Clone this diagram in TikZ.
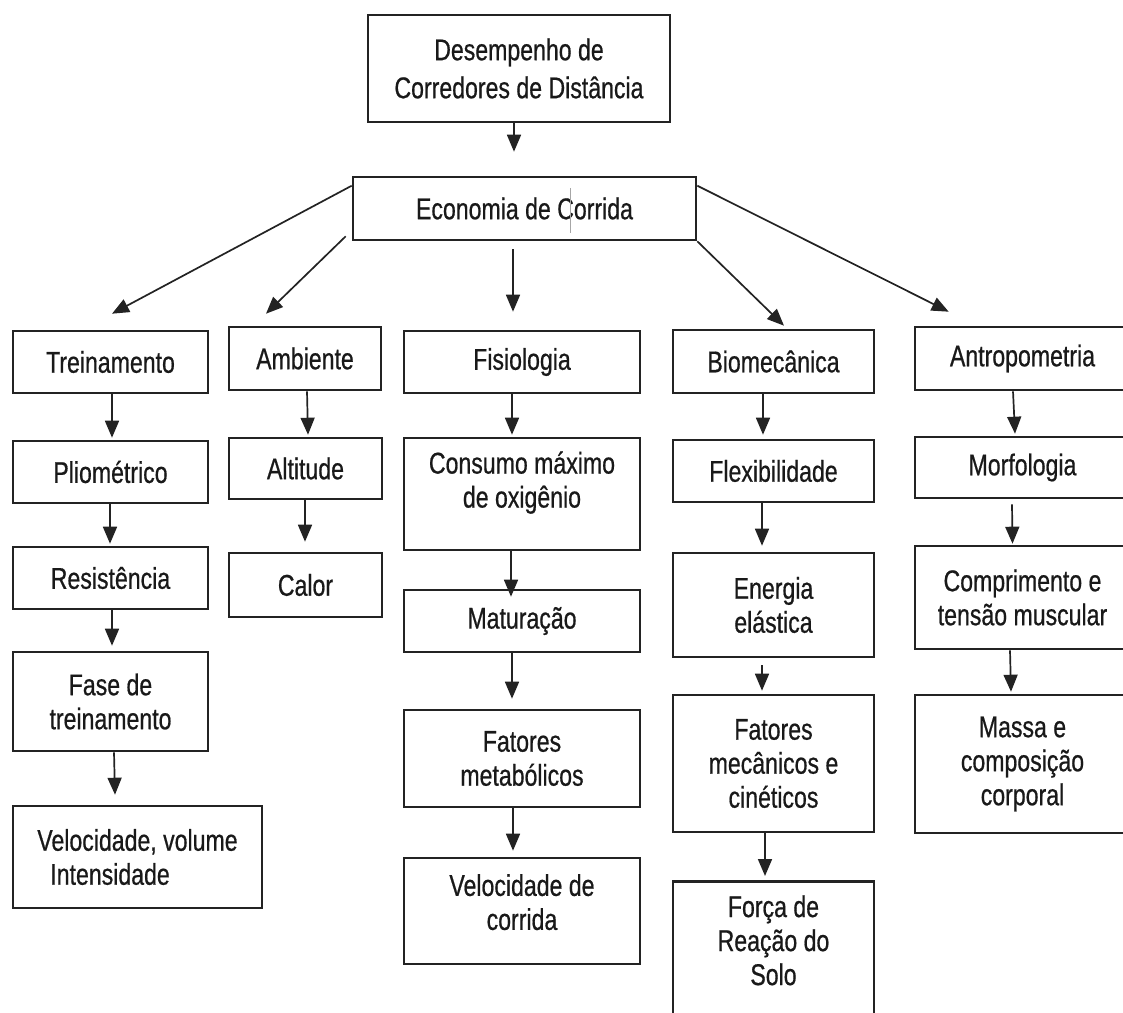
\documentclass[tikz,border=0pt]{standalone}
\usepackage{fontspec}
\setmainfont{Liberation Sans}[FakeStretch=0.77,FakeBold=0.6]
\usetikzlibrary{arrows.meta}
\definecolor{linec}{RGB}{35,35,35}
\definecolor{txtc}{RGB}{25,25,25}
\begin{document}
\begin{tikzpicture}[x=1pt,y=-1pt,
  box/.style={draw=linec, line width=2.6pt, fill=white, inner sep=2pt, align=center,
    font=\fontsize{30}{34}\selectfont, text=txtc},
  arr/.style={draw=linec, line width=1.7pt, -{Triangle[length=17pt,width=14pt]}}]
\useasboundingbox (0,0) rectangle (1123,1012);
\clip (0,0) rectangle (1123,1012);
% level 0 and 1
\node[box, minimum width=302, minimum height=107, font=\fontsize{30}{38}\selectfont] (top) at (519,68.5) {Desempenho de\\Corredores de Distância};
\node[box, minimum width=343, minimum height=63] (econ) at (524.5,208.5) {Economia de Corrida};
\draw[line width=0.8pt, gray!70] (570,188) -- (570,233);
% level 2
\node[box, minimum width=195, minimum height=62] (trein) at (110.5,362) {Treinamento};
\node[box, minimum width=152, minimum height=63] (amb) at (305,358.5) {Ambiente};
\node[box, minimum width=236, minimum height=62] (fis) at (522,362) {Fisiologia};
\node[box, minimum width=201, minimum height=63] (bio) at (773.5,361.5) {Biomecânica};
\node[box, minimum width=215, minimum height=63] (antro) at (1022.5,358.5) {Antropometria};
% column 1
\node[box, minimum width=195, minimum height=62] (plio) at (110.5,472) {Pliométrico};
\node[box, minimum width=195, minimum height=62] (resist) at (110.5,578) {Resistência};
\node[box, minimum width=195, minimum height=99] (fase) at (110.5,701.5) {Fase de\\treinamento};
\node[box, minimum width=249, minimum height=102, align=left] (velvol) at (137.5,857) {Velocidade, volume\\\hspace*{13pt}Intensidade};
% column 2
\node[box, minimum width=153, minimum height=61] (alt) at (305.5,468.5) {Altitude};
\node[box, minimum width=153, minimum height=64] (calor) at (305.5,585) {Calor};
% column 3
\node[box, minimum width=236, minimum height=112] (cons) at (522,494) {Consumo máximo\\de oxigênio\\[-5pt]\mbox{}};
\node[box, minimum width=236, minimum height=62] (mat) at (522,621) {Maturação};
\node[box, minimum width=236, minimum height=97] (fatmet) at (522,758.5) {Fatores\\metabólicos};
\node[box, minimum width=236, minimum height=106] (velc) at (522,911) {Velocidade de\\corrida\\[-16pt]\mbox{}};
% column 4
\node[box, minimum width=201, minimum height=62] (flex) at (773.5,471) {Flexibilidade};
\node[box, minimum width=201, minimum height=104] (ener) at (773.5,605) {Energia\\elástica};
\node[box, minimum width=201, minimum height=137] (fmec) at (773.5,763.5) {Fatores\\mecânicos e\\cinéticos};
\node[box, minimum width=201, inner ysep=14pt, anchor=north] (forca) at (773.5,880) {Força de\\Reação do\\Solo\\[80pt]\mbox{}};
% column 5
\node[box, minimum width=215, minimum height=61] (morf) at (1022.5,467.5) {Morfologia};
\node[box, minimum width=215, minimum height=103] (comp) at (1022.5,597.5) {Comprimento e\\tensão muscular};
\node[box, minimum width=215, minimum height=138] (massa) at (1022.5,764) {Massa e\\composição\\corporal};
% top connectors
\draw[arr] ([xshift=-5pt]top.south) -- ([xshift=-10.5pt,yshift=24pt]econ.north);
\draw[arr] ([yshift=-10pt]econ.north west) -- ([xshift=1.5pt,yshift=16pt]trein.north);
\draw[arr] ([xshift=-6pt,yshift=5pt]econ.south west) -- ([xshift=-39pt,yshift=12pt]amb.north);
\draw[arr] ([xshift=-11.5pt,yshift=-8pt]econ.south) -- ([xshift=-9pt,yshift=18pt]fis.north);
\draw[arr] (econ.south east) -- ([xshift=10.5pt,yshift=3pt]bio.north);
\draw[arr] ([yshift=-10pt]econ.north east) -- ([xshift=35pt,yshift=14pt]antro.north west);
% column 1 connectors
\draw[arr] ([xshift=1.5pt]trein.south) -- ([xshift=1.5pt,yshift=2pt]plio.north);
\draw[arr] ([xshift=-0.5pt]plio.south) -- ([xshift=-0.5pt,yshift=2pt]resist.north);
\draw[arr] ([xshift=1.5pt]resist.south) -- ([xshift=1.5pt,yshift=5pt]fase.north);
\draw[arr] ([xshift=3.5pt]fase.south) -- ([xshift=-22.5pt,yshift=10pt]velvol.north);
% column 2 connectors
\draw[arr] ([xshift=2pt]amb.south) -- ([xshift=2.5pt,yshift=2pt]alt.north);
\draw[arr] ([xshift=-0.5pt]alt.south) -- ([xshift=-0.5pt,yshift=10pt]calor.north);
% column 3 connectors
\draw[arr] ([xshift=-10pt]fis.south) -- ([xshift=-10pt,yshift=2pt]cons.north);
\draw[arr] ([xshift=-11pt]cons.south) -- ([xshift=-11pt,yshift=-8pt]mat.north);
\draw[arr] ([xshift=-10pt]mat.south) -- ([xshift=-10pt,yshift=10pt]fatmet.north);
\draw[arr] ([xshift=-9pt]fatmet.south) -- ([xshift=-9pt,yshift=6pt]velc.north);
% column 4 connectors
\draw[arr] ([xshift=-10.5pt]bio.south) -- ([xshift=-10.5pt,yshift=4pt]flex.north);
\draw[arr] ([xshift=-11.5pt]flex.south) -- ([xshift=-11.5pt,yshift=6pt]ener.north);
\draw[arr] ([xshift=-11.5pt,yshift=-7pt]ener.south) -- ([xshift=-11.5pt,yshift=3pt]fmec.north);
\draw[arr] ([xshift=-8.5pt]fmec.south) -- ([xshift=-8.5pt,yshift=4pt]forca.north);
% column 5 connectors
\draw[arr] ([xshift=-9.5pt]antro.south) -- ([xshift=-7.5pt,yshift=2pt]morf.north);
\draw[arr] ([xshift=-10.5pt,yshift=-5pt]morf.south) -- ([xshift=-10pt,yshift=1pt]comp.north);
\draw[arr] ([xshift=-12.5pt]comp.south) -- ([xshift=-11.5pt,yshift=2pt]massa.north);
\end{tikzpicture}
\end{document}
